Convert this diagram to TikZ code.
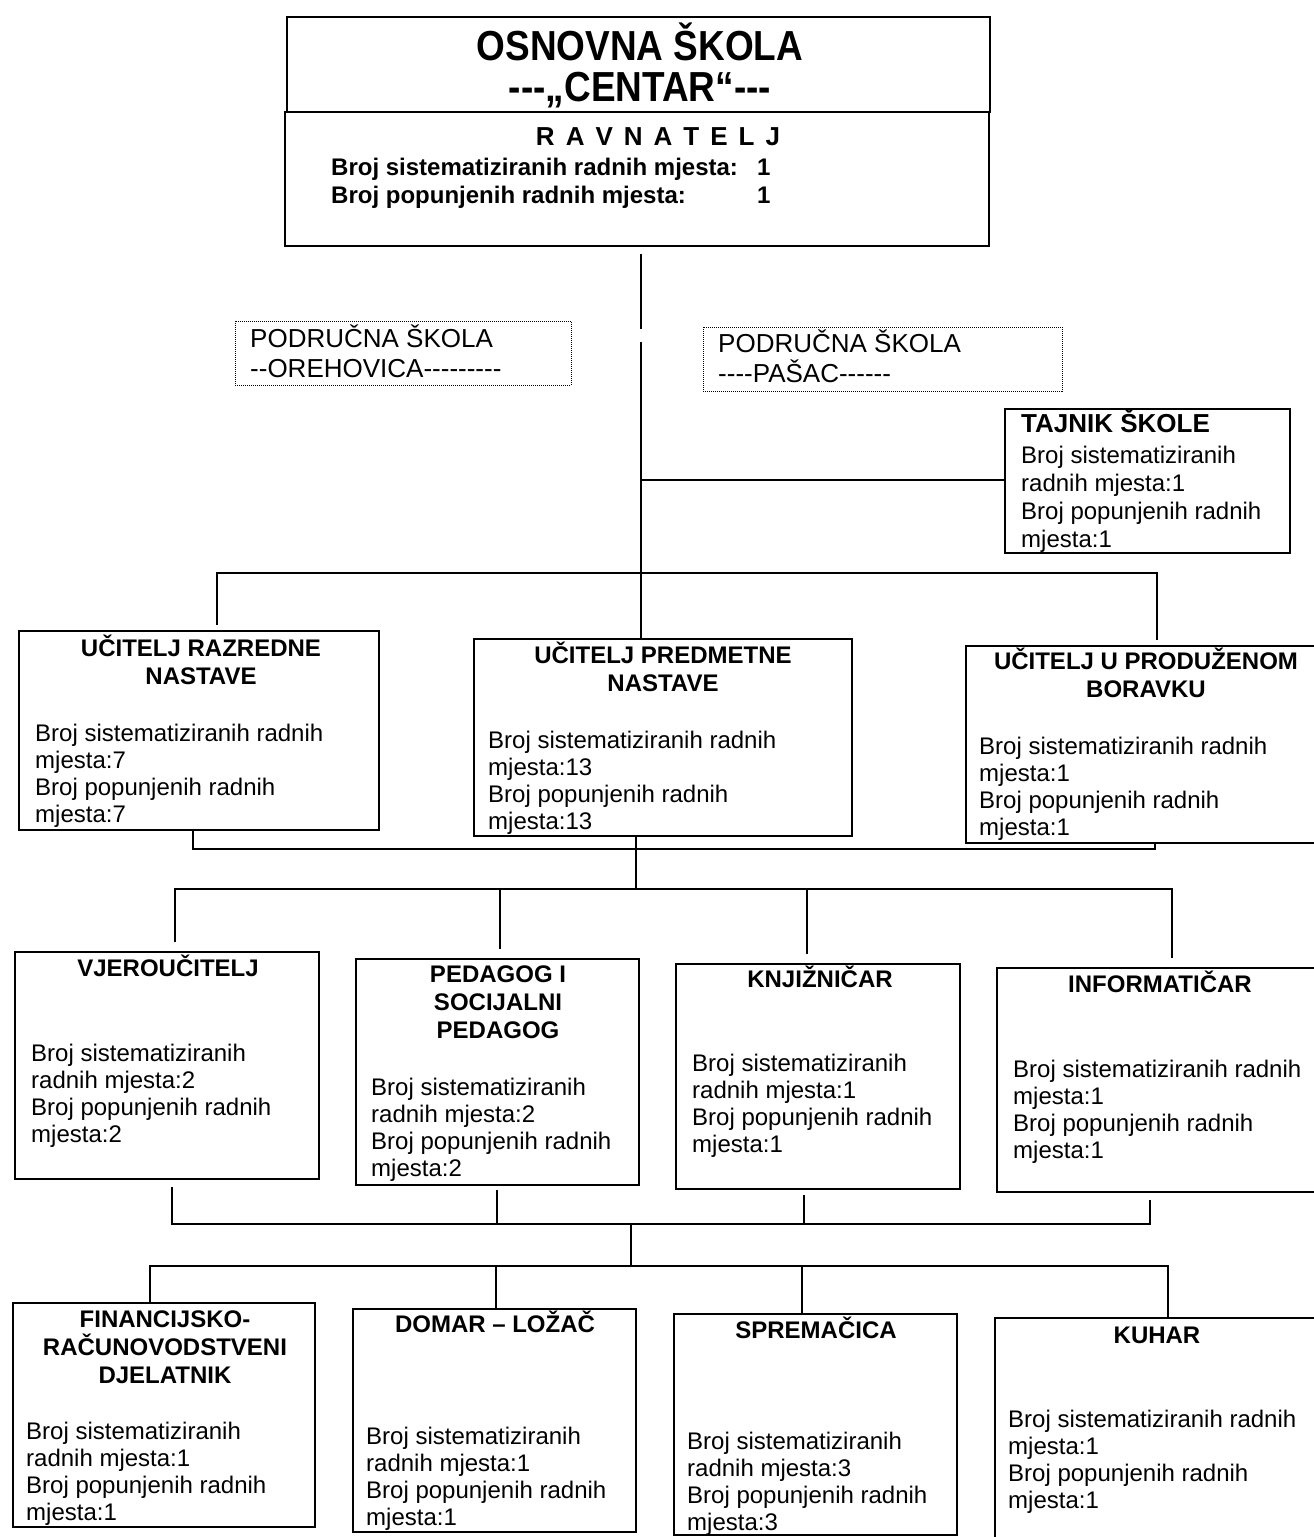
\documentclass[tikz,border=0pt]{standalone}
\usepackage{fontspec}
\setmainfont{Liberation Sans}
\newfontfamily\narrowfont{Liberation Sans}[FakeStretch=0.88]
\begin{document}
\begin{tikzpicture}[x=1pt,y=-1pt,
  box/.style={draw, line width=1.8pt, inner sep=0pt, outer sep=0pt},
  dotbox/.style={draw, line width=0.9pt, dash pattern=on 1pt off 1pt, inner sep=0pt, outer sep=0pt},
  conn/.style={line width=1.8pt},
  ttl/.style={font=\bfseries\fontsize{24}{28}\selectfont, align=center, anchor=base, inner sep=0pt},
  bdy/.style={font=\fontsize{24}{27}\selectfont, align=left, anchor=base west, inner sep=0pt},
  sub/.style={font=\fontsize{26}{30}\selectfont, align=left, anchor=base west, inner sep=0pt}]
\path[use as bounding box, clip] (0,0) rectangle (1314,1537);
\fill[white] (0,0) rectangle (1314,1537);

% (multi-line nodes are placed at the baseline of their last line)

% ---------- top box ----------
\node[box, minimum width=703pt, minimum height=95pt] (hd) at (638.5,64.5) {};
\node[box, minimum width=704pt, minimum height=134pt] (rav) at (637,179) {};
\node[font=\narrowfont\bfseries\fontsize{42}{48}\selectfont, anchor=base, inner sep=0pt] (hd1) at (640,60) {OSNOVNA ŠKOLA};
\node[font=\narrowfont\bfseries\fontsize{42}{48}\selectfont, anchor=base, inner sep=0pt] (hd2) at (640,101) {-{}-{}-„CENTAR“-{}-{}-};
\node[font=\bfseries\fontsize{26}{30}\selectfont, anchor=base, inner sep=0pt] (rav1) at (658,145) {R\kern11pt A\kern11pt V\kern11pt N\kern11pt A\kern11pt T\kern11pt E\kern11pt L\kern11pt J};
\node[font=\bfseries\fontsize{24}{28}\selectfont, align=left, anchor=base west, inner sep=0pt] (rav2) at (331,203)
  {\makebox[426pt][l]{Broj sistematiziranih radnih mjesta:}1\\\makebox[426pt][l]{Broj popunjenih radnih mjesta:}1};

% ---------- područne škole ----------
\node[dotbox, minimum width=336pt, minimum height=64pt] (ore) at (403,353) {};
\node[sub] (oret) at (250,377) {PODRUČNA ŠKOLA\\-{}-OREHOVICA-{}-{}-{}-{}-{}-{}-{}-{}-};
\node[dotbox, minimum width=359pt, minimum height=64pt] (pas) at (882.5,359) {};
\node[sub] (past) at (718,382) {PODRUČNA ŠKOLA\\-{}-{}-{}-PAŠAC-{}-{}-{}-{}-{}-};

% ---------- tajnik ----------
\node[box, minimum width=285pt, minimum height=144pt] (taj) at (1147.5,481) {};
\node[font=\bfseries\fontsize{26}{30}\selectfont, anchor=base west, inner sep=0pt] (tajt) at (1021,432) {TAJNIK ŠKOLE};
\node[bdy, font=\fontsize{24}{28}\selectfont] (tajb) at (1021,547) {Broj sistematiziranih\\radnih mjesta:1\\Broj popunjenih radnih\\mjesta:1};

% ---------- row 1 ----------
\node[box, minimum width=360pt, minimum height=199pt] (urn) at (199,730.5) {};
\node[ttl] (urnt) at (201,684) {UČITELJ RAZREDNE\\NASTAVE};
\node[bdy] (urnb) at (35,822) {Broj sistematiziranih radnih\\mjesta:7\\Broj popunjenih radnih\\mjesta:7};

\node[box, minimum width=378pt, minimum height=197pt] (upn) at (663,737.5) {};
\node[ttl] (upnt) at (663,691) {UČITELJ PREDMETNE\\NASTAVE};
\node[bdy] (upnb) at (488,829) {Broj sistematiziranih radnih\\mjesta:13\\Broj popunjenih radnih\\mjesta:13};

\node[box, minimum width=364pt, minimum height=197pt] (upb) at (1148,744.5) {};
\node[ttl] (upbt) at (1146,697) {UČITELJ U PRODUŽENOM\\BORAVKU};
\node[bdy] (upbb) at (979,835) {Broj sistematiziranih radnih\\mjesta:1\\Broj popunjenih radnih\\mjesta:1};

% ---------- row 2 ----------
\node[box, minimum width=304pt, minimum height=227pt] (vj) at (167,1065.5) {};
\node[ttl] (vjt) at (168,976) {VJEROUČITELJ};
\node[bdy] (vjb) at (31,1142) {Broj sistematiziranih\\radnih mjesta:2\\Broj popunjenih radnih\\mjesta:2};

\node[box, minimum width=283pt, minimum height=226pt] (ped) at (497.5,1072) {};
\node[ttl] (pedt) at (498,1038) {PEDAGOG I\\SOCIJALNI\\PEDAGOG};
\node[bdy] (pedb) at (371,1176) {Broj sistematiziranih\\radnih mjesta:2\\Broj popunjenih radnih\\mjesta:2};

\node[box, minimum width=284pt, minimum height=225pt] (knj) at (818,1076.5) {};
\node[ttl] (knjt) at (820,987) {KNJIŽNIČAR};
\node[bdy] (knjb) at (692,1152) {Broj sistematiziranih\\radnih mjesta:1\\Broj popunjenih radnih\\mjesta:1};

\node[box, minimum width=333pt, minimum height=224pt] (inf) at (1163.5,1080) {};
\node[ttl] (inft) at (1160,992) {INFORMATIČAR};
\node[bdy] (infb) at (1013,1158) {Broj sistematiziranih radnih\\mjesta:1\\Broj popunjenih radnih\\mjesta:1};

% ---------- row 3 ----------
\node[box, minimum width=302pt, minimum height=224pt] (fin) at (164,1415) {};
\node[ttl] (fint) at (165,1383) {FINANCIJSKO-\\RAČUNOVODSTVENI\\DJELATNIK};
\node[bdy] (finb) at (26,1520) {Broj sistematiziranih\\radnih mjesta:1\\Broj popunjenih radnih\\mjesta:1};

\node[box, minimum width=283pt, minimum height=223pt] (dom) at (494.5,1420.5) {};
\node[ttl] (domt) at (495,1332) {DOMAR – LOŽAČ};
\node[bdy] (domb) at (366,1525) {Broj sistematiziranih\\radnih mjesta:1\\Broj popunjenih radnih\\mjesta:1};

\node[box, minimum width=283pt, minimum height=221pt] (spr) at (815.5,1424.5) {};
\node[ttl] (sprt) at (816,1338) {SPREMAČICA};
\node[bdy] (sprb) at (687,1530) {Broj sistematiziranih\\radnih mjesta:3\\Broj popunjenih radnih\\mjesta:3};

\node[box, minimum width=335pt, minimum height=227pt] (kuh) at (1162.5,1431.5) {};
\node[ttl] (kuht) at (1157,1343) {KUHAR};
\node[bdy] (kuhb) at (1008,1508) {Broj sistematiziranih radnih\\mjesta:1\\Broj popunjenih radnih\\mjesta:1};

% ---------- connectors ----------
\coordinate (tr) at (641,0);
\coordinate (gapA) at (641,329);
\coordinate (gapB) at (641,342);
\coordinate (tj) at (641,480);
\draw[conn] ([yshift=-8pt]rav.south -| tr) -- (gapA);
\draw[conn] (gapB) -- (upn.north -| tr);
\draw[conn] (tj) -- (taj.west |- tj);

\coordinate (b1L) at (217,573);
\coordinate (b1R) at (1157,573);
\draw[conn] ([yshift=6pt]urn.north -| b1L) -- (b1L) -- (b1R) -- ([yshift=6pt]upb.north -| b1R);

\coordinate (c1L) at (193,849);
\coordinate (c1R) at (1155,849);
\coordinate (c1M) at (636,849);
\draw[conn] (urn.south -| c1L) -- (c1L) -- (c1R) -- (upb.south -| c1R);

\coordinate (b2L) at (175,889);
\coordinate (b2R) at (1172,889);
\coordinate (b2M) at (636,889);
\coordinate (b2a) at (500,889);
\coordinate (b2b) at (807,889);
\draw[conn] (upn.south -| c1M) -- (b2M);
\draw[conn] ([yshift=10pt]vj.north -| b2L) -- (b2L) -- (b2R) -- ([yshift=10pt]inf.north -| b2R);
\draw[conn] (b2a) -- ([yshift=10pt]ped.north -| b2a);
\draw[conn] (b2b) -- ([yshift=10pt]knj.north -| b2b);

\coordinate (c2L) at (172,1224);
\coordinate (c2R) at (1150,1224);
\coordinate (c2a) at (497,1224);
\coordinate (c2b) at (804,1224);
\coordinate (c2M) at (631,1224);
\draw[conn] ([yshift=-8pt]vj.south -| c2L) -- (c2L) -- (c2R) -- ([yshift=-8pt]inf.south -| c2R);
\draw[conn] ([yshift=-5pt]ped.south -| c2a) -- (c2a);
\draw[conn] ([yshift=-6pt]knj.south -| c2b) -- (c2b);

\coordinate (b3L) at (150,1266);
\coordinate (b3R) at (1168,1266);
\coordinate (b3M) at (631,1266);
\coordinate (b3a) at (496,1266);
\coordinate (b3b) at (802,1266);
\draw[conn] (c2M) -- (b3M);
\draw[conn] (fin.north -| b3L) -- (b3L) -- (b3R) -- (kuh.north -| b3R);
\draw[conn] (b3a) -- (dom.north -| b3a);
\draw[conn] (b3b) -- (spr.north -| b3b);
\end{tikzpicture}
\end{document}
